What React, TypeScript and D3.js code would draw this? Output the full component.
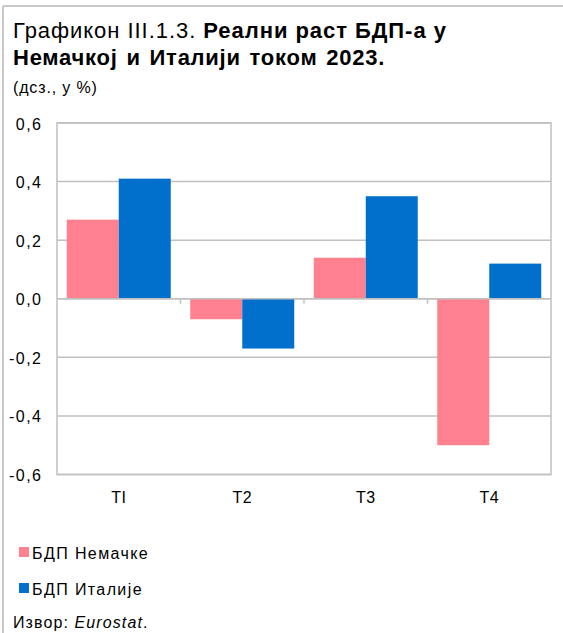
import React from "react";
import * as d3 from "d3";

const categories = ["TI", "T2", "T3", "T4"];
const seriesNames = ["БДП Немачке", "БДП Италије"];
const germany = [0.27, -0.07, 0.14, -0.5];
const italy = [0.41, -0.17, 0.35, 0.12];
const yTicks = [0.6, 0.4, 0.2, 0.0, -0.2, -0.4, -0.6];
const colors = ["#FF808F", "#0070CC"];

const W = 563;
const H = 633;
const plot = { left: 57, right: 551, top: 123, bottom: 474.5 };
const font = "'Liberation Sans', Arial, sans-serif";
const grid = "#C0C0C0";

export default function App() {
  const x0 = d3.scaleBand<string>().domain(categories).range([plot.left, plot.right]).padding(0);
  const x1 = d3
    .scaleBand<string>()
    .domain(seriesNames)
    .range([0, x0.bandwidth()])
    .paddingInner(0)
    .paddingOuter(0.1875);
  const y = d3.scaleLinear().domain([-0.6, 0.6]).range([plot.bottom, plot.top]);
  const values = [germany, italy];
  const fmt = (v: number) => d3.format(".1f")(v).replace(".", ",").replace("−", "-");

  return (
    <svg
      width={W}
      height={H}
      style={{ position: "absolute", left: 0, top: 0, background: "#fff" }}
      fontFamily={font}
    >
      <rect x={0} y={0} width={W} height={H} fill="#fff" />
      {/* outer frame */}
      <line x1={3} x2={W} y1={6} y2={6} stroke="#C8C8C8" strokeWidth={2} />
      <line x1={3} x2={3} y1={6} y2={H} stroke="#C8C8C8" strokeWidth={2} />

      {/* title */}
      <text x={13} y={37.5} fontSize={22} fill="#000" letterSpacing={0.95}>
        <tspan>Графикон III.1.3. </tspan>
        <tspan fontWeight="bold">Реални раст БДП-а у</tspan>
      </text>
      <text x={13} y={65} fontSize={22} fill="#000" fontWeight="bold" letterSpacing={0.75} wordSpacing={2}>
        Немачкој и Италији током 2023.
      </text>
      <text x={13} y={93} fontSize={16} fill="#000" letterSpacing={0.85}>
        (дсз., у %)
      </text>

      {/* gridlines */}
      {yTicks.map((t) => (
        <line
          key={"g" + t}
          x1={plot.left}
          x2={plot.right}
          y1={y(t)}
          y2={y(t)}
          stroke={grid}
          strokeWidth={1.5}
        />
      ))}
      <rect
        x={plot.left}
        y={plot.top}
        width={plot.right - plot.left}
        height={plot.bottom - plot.top}
        fill="none"
        stroke={grid}
        strokeWidth={1.5}
      />

      {/* bars */}
      {categories.map((c, i) =>
        seriesNames.map((s, j) => {
          const v = values[j][i];
          const y0 = y(0);
          const yv = y(v);
          return (
            <rect
              key={c + s}
              x={(x0(c) as number) + (x1(s) as number)}
              y={Math.min(y0, yv)}
              width={x1.bandwidth()}
              height={Math.abs(yv - y0)}
              fill={colors[j]}
            />
          );
        })
      )}

      {/* zero axis with ticks */}
      <line x1={plot.left} x2={plot.right} y1={y(0)} y2={y(0)} stroke={grid} strokeWidth={1.5} />
      {categories.slice(1).map((c) => (
        <line
          key={"t" + c}
          x1={x0(c) as number}
          x2={x0(c) as number}
          y1={y(0)}
          y2={y(0) + 5}
          stroke={grid}
          strokeWidth={1.5}
        />
      ))}

      {/* y labels */}
      {yTicks.map((t) => (
        <text
          key={"l" + t}
          x={42.5}
          y={y(t) + 6.5}
          textAnchor="end"
          fontSize={16}
          fill="#000"
          letterSpacing={1.5}
        >
          {fmt(t)}
        </text>
      ))}

      {/* x labels */}
      {categories.map((c) => (
        <text
          key={"x" + c}
          x={(x0(c) as number) + x0.bandwidth() / 2}
          y={503}
          textAnchor="middle"
          fontSize={16}
          fill="#000"
          letterSpacing={0.5}
        >
          {c}
        </text>
      ))}

      {/* legend */}
      {seriesNames.map((s, j) => (
        <g key={"lg" + s} transform={`translate(19, ${547 + j * 36})`}>
          <rect x={0} y={0} width={10} height={10} fill={colors[j]} />
          <text x={13} y={12} fontSize={16} fill="#000" letterSpacing={1.4}>
            {s}
          </text>
        </g>
      ))}

      {/* source */}
      <text x={13} y={628} fontSize={16} fill="#000" letterSpacing={1.1}>
        <tspan>Извор: </tspan>
        <tspan fontStyle="italic">Eurostat</tspan>
        <tspan>.</tspan>
      </text>
    </svg>
  );
}
